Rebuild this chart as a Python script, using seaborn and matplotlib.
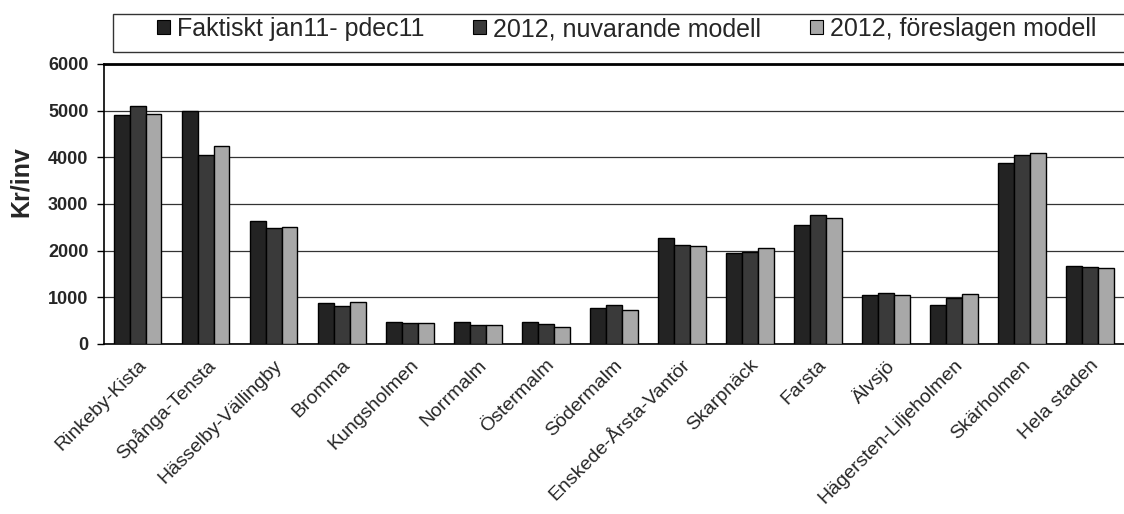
import matplotlib
matplotlib.use("Agg")
import matplotlib.pyplot as plt
from matplotlib.patches import Rectangle, Patch
import seaborn as sns
import pandas as pd
import numpy as np

categories = ["Rinkeby-Kista", "Spånga-Tensta", "Hässelby-Vällingby", "Bromma",
              "Kungsholmen", "Norrmalm", "Östermalm", "Södermalm",
              "Enskede-Årsta-Vantör", "Skarpnäck", "Farsta", "Älvsjö",
              "Hägersten-Liljeholmen", "Skärholmen", "Hela staden"]
series_names = ["Faktiskt jan11- pdec11", "2012, nuvarande modell", "2012, föreslagen modell"]
faktiskt = [4900, 5000, 2640, 870, 465, 465, 465, 765, 2265, 1945, 2545, 1050, 835, 3870, 1680]
nuvarande = [5100, 4040, 2480, 815, 445, 410, 430, 835, 2120, 1980, 2765, 1100, 995, 4040, 1655]
foreslagen = [4925, 4250, 2515, 895, 445, 400, 360, 730, 2100, 2065, 2695, 1060, 1070, 4085, 1635]
yticks = [0, 1000, 2000, 3000, 4000, 5000, 6000]
ylabel = "Kr/inv"

df = pd.DataFrame({
    "Stadsdel": categories * 3,
    "Serie": [series_names[0]] * 15 + [series_names[1]] * 15 + [series_names[2]] * 15,
    "Värde": faktiskt + nuvarande + foreslagen,
})

sns.set_style("white")
plt.rcParams["font.family"] = ["Liberation Sans", "DejaVu Sans"]

W, H = 1124, 514
fig = plt.figure(figsize=(W / 100, H / 100), dpi=100)
ax_w = 1 - 103.6 / W
ax = fig.add_axes([103.6 / W, 1 - 344 / H, ax_w, (344 - 64) / H])

palette = ["#232323", "#3a3a3a", "#a8a8a8"]
sns.barplot(data=df, x="Stadsdel", y="Värde", hue="Serie", palette=palette,
            width=0.7, gap=0, edgecolor="black", linewidth=1.0,
            saturation=1, ax=ax, legend=False, zorder=3)

ax.set_ylim(0, 6000)
ax.set_xlim(-0.5, 14.37)
ax.set_yticks(yticks)
ax.set_yticklabels([str(v) for v in yticks], fontsize=13, fontweight="bold")
ax.yaxis.grid(True, color="#333333", linewidth=0.9, zorder=0)
ax.set_axisbelow(True)
ax.set_xlabel("")
ax.set_ylabel(ylabel, fontsize=18, fontweight="bold")
ax.yaxis.set_label_coords((33 - 103.6) / (ax_w * W), (344 - 182) / 280)

ax.set_xticks(range(len(categories)))
ax.set_xticklabels(categories, rotation=45, ha="right", rotation_mode="anchor", fontsize=14)
ax.tick_params(axis="x", which="major", length=0, pad=9)
ax.set_xticks(np.arange(-0.5, 14.6, 1.0), minor=True)
ax.tick_params(axis="x", which="minor", length=5, width=1, color="black", direction="out")
ax.tick_params(axis="y", which="major", length=5, width=1, color="black", direction="out", pad=6, left=True)

for side in ["left", "bottom"]:
    ax.spines[side].set_visible(True)
    ax.spines[side].set_color("black")
    ax.spines[side].set_linewidth(1.2)
ax.spines["top"].set_visible(True)
ax.spines["top"].set_color("black")
ax.spines["top"].set_linewidth(2.0)
ax.spines["right"].set_visible(False)

# Legend
handles = [Patch(facecolor=c, edgecolor="black", linewidth=0.8) for c in palette]
leg = fig.legend(handles, series_names, loc="center left",
                 bbox_to_anchor=(157 / W, 1 - 29 / H), ncol=3, frameon=False,
                 fontsize=18, handlelength=0.5, handleheight=0.5,
                 handletextpad=0.3, columnspacing=1.95, borderaxespad=0,
                 borderpad=0)
fig.patches.append(Rectangle((113 / W, 1 - 52 / H), 1.0, 38 / H,
                             transform=fig.transFigure, fill=False,
                             edgecolor="#333333", linewidth=1.0))

fig.savefig("out.png", dpi=100)
